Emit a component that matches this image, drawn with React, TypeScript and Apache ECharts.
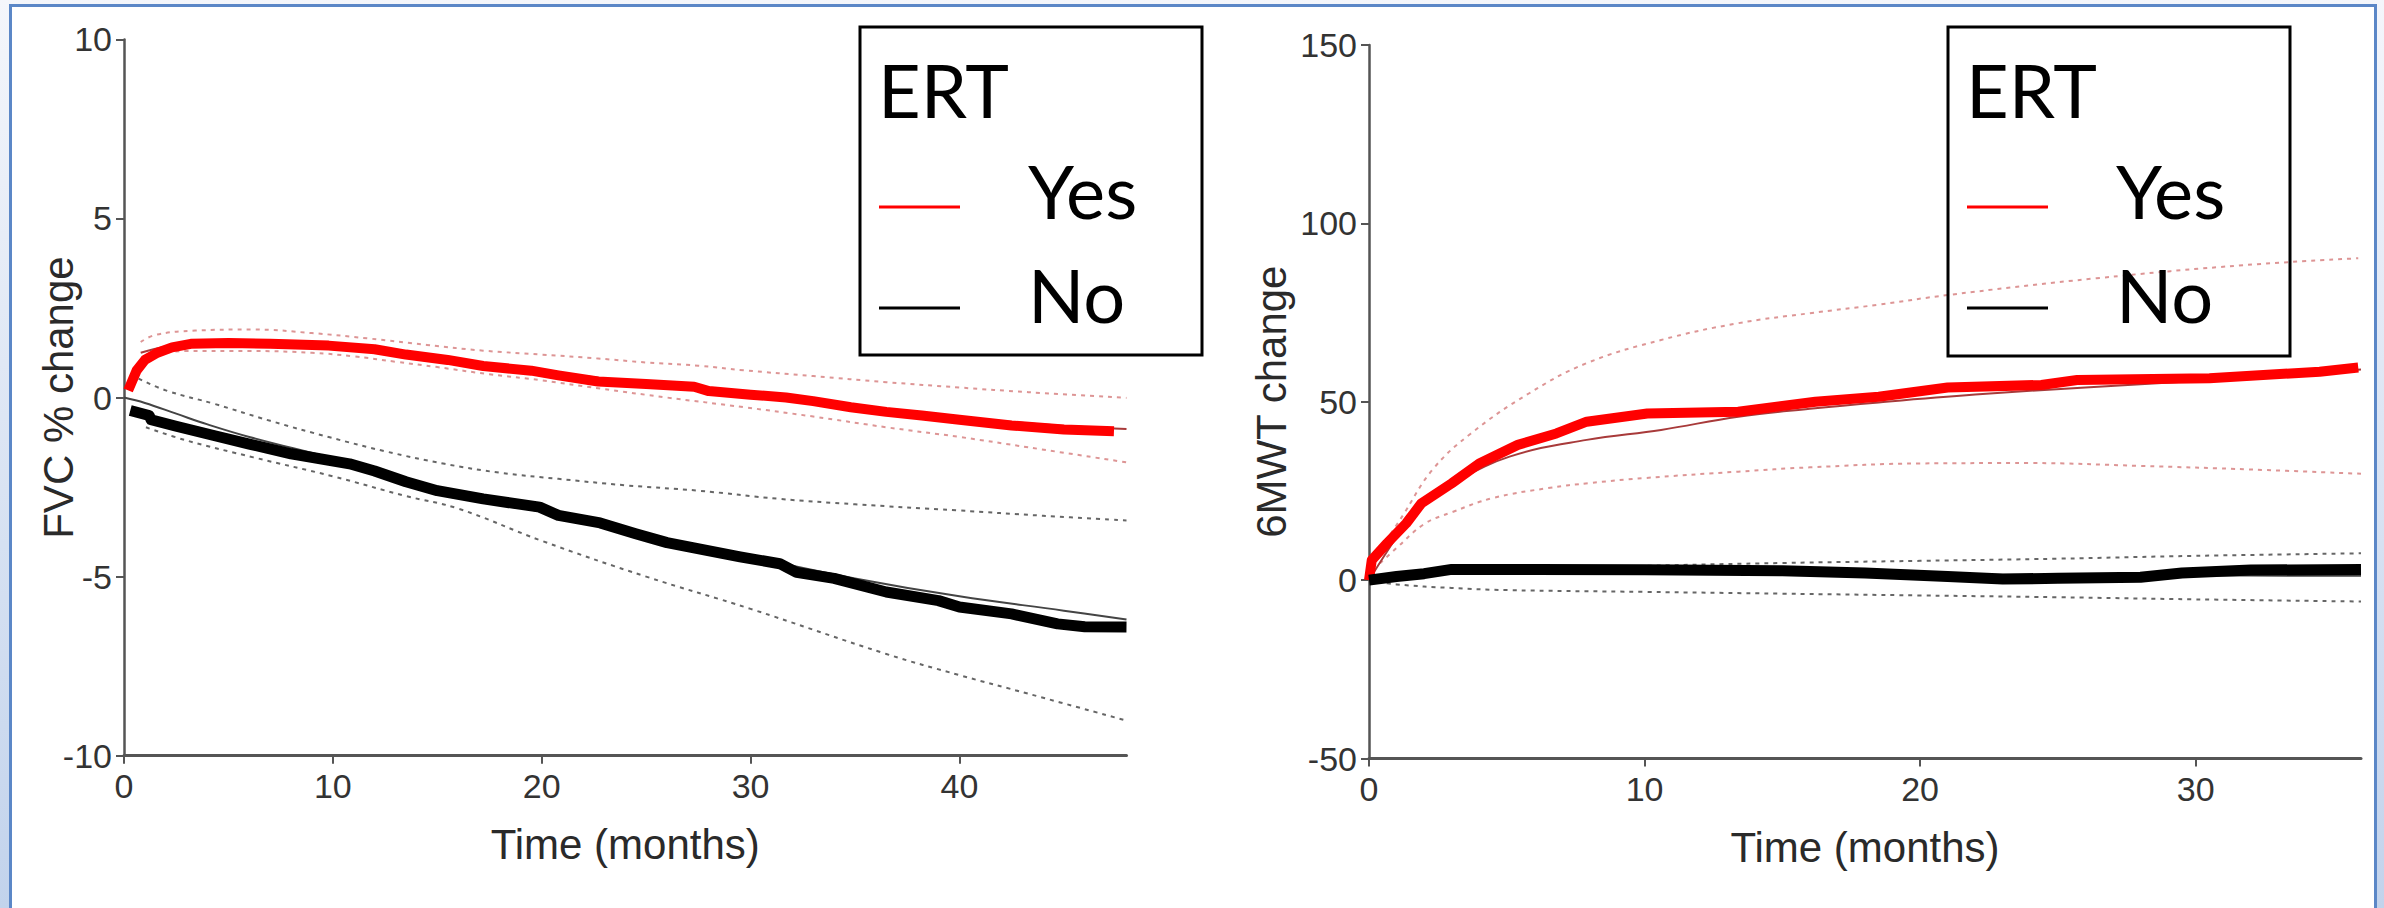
import React, { useEffect, useRef } from "react";
import * as echarts from "echarts";

// ---------- tick labels ----------
const fvcXTicks = [0, 10, 20, 30, 40];
const fvcYTicks = [-10, -5, 0, 5, 10];
const mwtXTicks = [0, 10, 20, 30];
const mwtYTicks = [-50, 0, 50, 100, 150];

// ---------- FVC % change (left) ----------
const fvcYesMean = [[0.2,0.2],[0.6,0.75],[1.0,1.05],[1.6,1.25],[2.3,1.4],[3.2,1.5],[5,1.52],[7,1.5],[9.8,1.45],[12,1.35],[13.5,1.2],[15.5,1.05],[17.2,0.88],[19.5,0.75],[20.8,0.62],[22.7,0.45],[25,0.38],[27.3,0.3],[28,0.18],[30,0.08],[31.7,0.0],[33,-0.1],[34.8,-0.27],[36.5,-0.4],[38.2,-0.5],[40,-0.62],[42.5,-0.78],[45,-0.89],[47.4,-0.94]];
const fvcYesFit = [[0.8,1.25],[2,1.42],[4,1.52],[7,1.52],[10,1.43],[13,1.25],[16,1.02],[20,0.74],[24,0.46],[28,0.2],[32,-0.05],[36,-0.32],[40,-0.55],[44,-0.75],[48,-0.88]];
const fvcYesUpper = [[0.8,1.55],[1.5,1.75],[3.4,1.87],[6.2,1.9],[9,1.8],[11.7,1.65],[14.5,1.47],[17.2,1.31],[20,1.2],[22.7,1.09],[25,0.98],[27.5,0.89],[29.7,0.76],[33,0.6],[36.5,0.43],[40,0.28],[43.3,0.15],[48,-0.01]];
const fvcYesLower = [[0.8,1.05],[1.5,1.2],[3,1.3],[6,1.3],[9,1.25],[11,1.15],[13,1.0],[15,0.85],[17.5,0.65],[20,0.48],[22.8,0.25],[26,0.0],[29.7,-0.27],[33,-0.53],[36.5,-0.83],[40,-1.1],[43.3,-1.39],[48,-1.81]];
const fvcNoMean = [[0.3,-0.36],[1.2,-0.5],[1.3,-0.62],[2.5,-0.8],[4.3,-1.06],[6,-1.3],[8,-1.57],[10.8,-1.85],[12,-2.05],[13.5,-2.35],[15,-2.6],[17.2,-2.83],[19.9,-3.06],[20.8,-3.29],[22.8,-3.5],[24.5,-3.8],[26,-4.05],[27.9,-4.27],[29.5,-4.45],[31.4,-4.64],[32.2,-4.88],[34,-5.05],[36.5,-5.43],[39,-5.67],[40,-5.85],[42.5,-6.04],[44.7,-6.32],[46,-6.4],[48,-6.41]];
const fvcNoFit = [[0,0],[1,-0.15],[2.5,-0.45],[4,-0.75],[6,-1.1],[10,-1.7],[15,-2.5],[20,-3.2],[25,-3.85],[30,-4.45],[35,-5.05],[40,-5.55],[45,-5.95],[48,-6.2]];
const fvcNoUpper = [[0.7,0.53],[2,0.2],[4.35,-0.18],[7,-0.65],[9.85,-1.11],[12.5,-1.5],[15.35,-1.85],[18,-2.1],[20.8,-2.27],[24,-2.45],[27.5,-2.6],[31.4,-2.83],[35,-2.98],[39.9,-3.15],[44,-3.3],[48,-3.43]];
const fvcNoLower = [[1.05,-0.83],[3,-1.2],[6.2,-1.67],[10,-2.2],[13.5,-2.75],[16,-3.1],[20,-4.0],[25,-5.0],[30,-5.9],[36.5,-7.16],[40,-7.75],[43.3,-8.27],[48,-9.02]];

// ---------- 6MWT change (right) ----------
const mwtYesMean = [[0,0],[0.1,5.6],[0.65,10.3],[1.35,15.9],[1.9,21.5],[3.0,27.1],[4.0,32.7],[5.4,37.9],[6.8,41.1],[7.9,44.4],[10.1,46.7],[13.4,47.2],[16.2,50],[18.5,51.4],[21,54],[24.4,54.7],[25.7,56.1],[30.5,56.6],[34.5,58.4],[35.9,59.6]];
const mwtYesFit = [[0,0],[1,12],[1.9,21.5],[3,27],[5.1,34.6],[7.9,39.3],[10.6,42.1],[13.4,45.8],[16,48],[18.5,49.8],[22,52],[26,54],[30,55.8],[36,59]];
const mwtYesUpper = [[0.24,6.6],[1.2,17.8],[2.3,30.9],[3.7,41.1],[5.8,52.3],[7.9,60.8],[10.6,67.3],[13.4,72],[16,74.8],[18.5,77.2],[21,79.9],[26.4,84.6],[31.8,88.3],[35.9,90.2]];
const mwtYesLower = [[0.4,4.7],[1,9],[2,15.7],[3,19],[4.5,23],[6.5,25.8],[8,27.2],[10,28.6],[13.4,30.4],[16,31.6],[20,32.7],[24,32.8],[28,32.0],[32,31],[36,29.8]];
const mwtNoMean = [[0,0],[1,1.0],[2,1.8],[3,3.0],[6,3.0],[10,2.9],[15,2.6],[18,2.0],[21,1.0],[23,0.3],[25,0.5],[28,0.8],[29.5,2.0],[32,2.8],[36,3.0]];
const mwtNoFit = [[0,0],[3,1.8],[10,2.0],[20,1.6],[30,1.3],[36,1.2]];
const mwtNoUpper = [[0,0],[2,1.5],[5,3.0],[10,4.0],[15,4.8],[20,5.4],[25,6.0],[30,6.8],[36,7.5]];
const mwtNoLower = [[0,0],[1,-1.2],[3,-2.2],[5,-2.8],[10,-3.3],[15,-3.8],[20,-4.3],[25,-4.8],[30,-5.4],[36,-6.0]];

const legendTitle = "ERT";
const legendItems = ["Yes", "No"];

const RED = "#ff0000";
const BLACK = "#000000";
const RED_CI = "#d98a8a";
const BLACK_CI = "#555555";
const RED_FIT = "#a83a3a";
const BLACK_FIT = "#444444";

const AXIS_FONT = "'Liberation Sans', Arial, sans-serif";
const LEGEND_FONT = "Lato, 'Open Sans', sans-serif";

function line(data: number[][], idx: number, color: string, width: number, kind: "mean" | "fit" | "ci") {
  return {
    type: "line",
    xAxisIndex: idx,
    yAxisIndex: idx,
    data,
    showSymbol: false,
    symbol: "none",
    smooth: kind === "mean" ? false : 0.4,
    z: kind === "mean" ? 5 : kind === "fit" ? 4 : 3,
    silent: true,
    lineStyle: {
      color,
      width,
      type: kind === "ci" ? [4, 5] : "solid",
      cap: "butt",
      join: "round",
      opacity: kind === "ci" ? 0.9 : 1,
    },
  };
}

function xAxis(idx: number, max: number, ticks: number[]) {
  return {
    type: "value",
    gridIndex: idx,
    min: 0,
    max,
    interval: 10,
    name: "Time (months)",
    nameLocation: "middle",
    nameGap: 68,
    nameMoveOverlap: false,
    nameTextStyle: { fontFamily: AXIS_FONT, fontSize: 42, color: "#2a2a2a" },
    axisLine: { onZero: false, lineStyle: { color: "#555", width: 3 } },
    axisTick: { show: true, length: 8, customValues: ticks, lineStyle: { color: "#555", width: 2 } },
    axisLabel: { customValues: ticks, fontFamily: AXIS_FONT, fontSize: 34, color: "#333", margin: 13 },
    splitLine: { show: false },
  };
}

function yAxis(idx: number, name: string, min: number, max: number, interval: number, ticks: number[], gap: number) {
  return {
    type: "value",
    gridIndex: idx,
    min,
    max,
    interval,
    name,
    nameLocation: "middle",
    nameGap: gap,
    nameMoveOverlap: false,
    nameTextStyle: { fontFamily: AXIS_FONT, fontSize: 42, color: "#2a2a2a" },
    axisLine: { show: true, onZero: false, lineStyle: { color: "#555", width: 2.5 } },
    axisTick: { show: true, length: 8, customValues: ticks, lineStyle: { color: "#555", width: 2 } },
    axisLabel: { customValues: ticks, fontFamily: AXIS_FONT, fontSize: 34, color: "#333", margin: 12 },
    splitLine: { show: false },
  };
}

function legend(x0: number, y0: number, w: number, h: number) {
  const items: any[] = [
    { type: "rect", shape: { x: x0, y: y0, width: w, height: h }, style: { fill: "none", stroke: "#000", lineWidth: 3 }, z: 20 },
    { type: "text", x: x0 + 18, y: 89, style: { text: legendTitle, fontFamily: LEGEND_FONT, fontSize: 74, fill: "#000", align: "left", verticalAlign: "middle" }, z: 20 },
  ];
  const colors = [RED, BLACK];
  const ys = [207, 308];
  const tys = [190, 294];
  legendItems.forEach((label, i) => {
    items.push({ type: "line", shape: { x1: x0 + 19, y1: ys[i], x2: x0 + 100, y2: ys[i] }, style: { stroke: colors[i], lineWidth: 3 }, z: 20 });
    items.push({ type: "text", x: x0 + 168, y: tys[i], style: { text: label, fontFamily: LEGEND_FONT, fontSize: 74, fill: "#000", align: "left", verticalAlign: "middle" }, z: 20 });
  });
  return items;
}

export default function App() {
  const ref = useRef<HTMLDivElement>(null);
  useEffect(() => {
    document.body.style.margin = "0";
    const chart = echarts.init(ref.current!, null, { renderer: "svg", width: 2384, height: 908 });
    const option: any = {
      animation: false,
      backgroundColor: "transparent",
      grid: [
        { left: 124, top: 39.4, width: 1002.5, height: 716.3, outerBoundsMode: "none", containLabel: false },
        { left: 1369, top: 44.9, width: 992, height: 713.6, outerBoundsMode: "none", containLabel: false },
      ],
      xAxis: [xAxis(0, 48, fvcXTicks), xAxis(1, 36, mwtXTicks)],
      yAxis: [
        yAxis(0, "FVC % change", -10, 10, 5, fvcYTicks, 45),
        yAxis(1, "6MWT change", -50, 150, 50, mwtYTicks, 77),
      ],
      graphic: [
        {
          type: "rect",
          shape: { x: 0, y: 0, width: 2384, height: 908 },
          style: {
            fill: new echarts.graphic.LinearGradient(0, 0, 0, 1, [
              { offset: 0, color: "#f4f6fb" },
              { offset: 1, color: "#c2d3ec" },
            ]),
          },
          z: -20,
          silent: true,
        },
        {
          type: "rect",
          shape: { x: 10.5, y: 5.5, width: 2365, height: 930 },
          style: { fill: "#ffffff", stroke: "#5b87c7", lineWidth: 3 },
          z: -19,
          silent: true,
        },
        ...legend(860, 27, 342, 328),
        ...legend(1948, 27, 342, 329),
      ],
      series: [
        line(fvcYesUpper, 0, RED_CI, 2, "ci"),
        line(fvcYesLower, 0, RED_CI, 2, "ci"),
        line(fvcNoUpper, 0, BLACK_CI, 2, "ci"),
        line(fvcNoLower, 0, BLACK_CI, 2, "ci"),
        line(fvcYesFit, 0, RED_FIT, 2, "fit"),
        line(fvcNoFit, 0, BLACK_FIT, 2, "fit"),
        line(fvcYesMean, 0, RED, 10, "mean"),
        line(fvcNoMean, 0, BLACK, 11, "mean"),
        line(mwtYesUpper, 1, RED_CI, 2, "ci"),
        line(mwtYesLower, 1, RED_CI, 2, "ci"),
        line(mwtNoUpper, 1, BLACK_CI, 2, "ci"),
        line(mwtNoLower, 1, BLACK_CI, 2, "ci"),
        line(mwtYesFit, 1, RED_FIT, 2, "fit"),
        line(mwtNoFit, 1, BLACK_FIT, 2, "fit"),
        line(mwtYesMean, 1, RED, 10, "mean"),
        line(mwtNoMean, 1, BLACK, 11, "mean"),
      ],
    };
    chart.setOption(option);
    return () => chart.dispose();
  }, []);
  return <div ref={ref} style={{ position: "absolute", left: 0, top: 0, width: 2384, height: 908 }} />;
}
